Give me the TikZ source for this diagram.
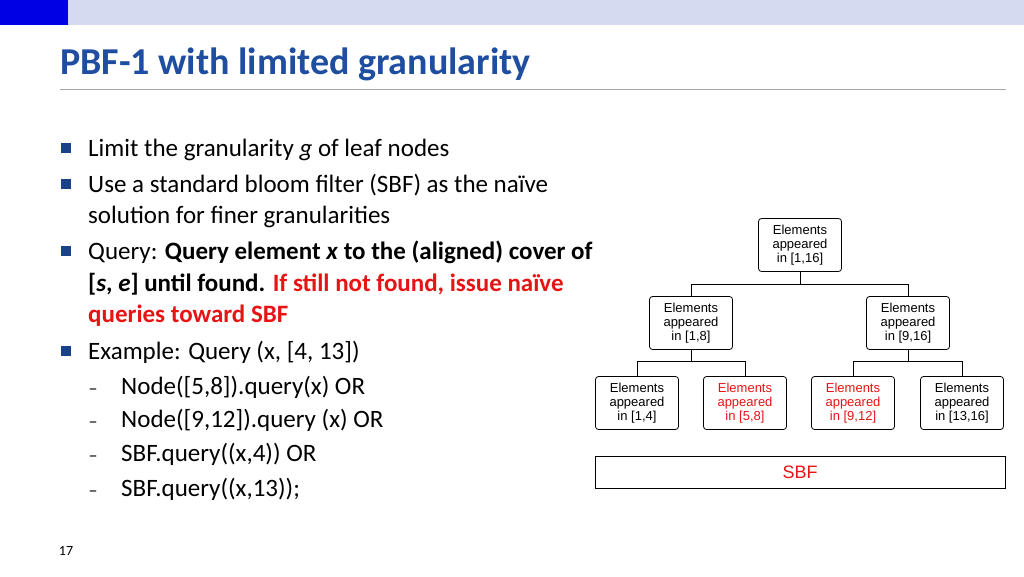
\documentclass[tikz,border=0pt]{standalone}
\usepackage{amsmath,amssymb}
\usepackage{bm}
\usepackage{fontspec}
\setmainfont{Carlito}
\newfontfamily\arialfont{Liberation Sans}
\usetikzlibrary{positioning}
\definecolor{titleblue}{RGB}{31,78,160}
\definecolor{barblue}{RGB}{213,218,240}
\definecolor{hotred}{RGB}{230,20,20}
\tikzset{
  elem/.style={draw, thick, rounded corners=3pt, minimum width=83pt, minimum height=53pt,
    align=center, font=\arialfont\fontsize{13}{14}\selectfont, inner sep=1pt},
  line/.style={anchor=base west, inner xsep=0pt, font=\fontsize{25}{28}\selectfont},
  bul/.style={fill=titleblue!85!black, minimum size=10pt, inner sep=0pt},
  wire/.style={thick}
}
\begin{document}
\begin{tikzpicture}[x=1pt,y=-1pt]
  \useasboundingbox (0,0) rectangle (1024,576);
  % header bar
  \fill[barblue] (0,0) rectangle (1024,25);
  \fill[blue!90!black] (0,0) rectangle (68,25);
  \node[anchor=base west, inner xsep=0pt, text=titleblue, font=\bfseries\fontsize{38}{42}\selectfont] (title) at (60,74) {PBF-1 with limited granularity};
  \draw[gray!70] (60,89) -- (1006,89);
  % bullets
  \foreach \yy in {148,184,251,351} \node[bul] at (66,\yy) {};
  \node[line] (l1) at (88,156) {Limit the granularity \textit{g} of leaf nodes};
  \node[line] (l2) at (88,192) {Use a standard bloom filter (SBF) as the naïve};
  \node[line] (l3) at (88,223) {solution for finer granularities};
  \node[line] (l4) at (88,259) {Query: \textbf{Query element \textit{x} to the (aligned) cover of}};
  \node[line] (l5) at (88,291) {\textbf{[\textit{s}, \textit{e}] until found.} \textcolor{hotred}{\textbf{If still not found, issue naïve}}};
  \node[line] (l6) at (88,322) {\textcolor{hotred}{\textbf{queries toward SBF}}};
  \node[line] (l7) at (88,359) {Example: Query (x, [4, 13])};
  \foreach \yy/\txt [count=\i] in {394/{Node([5,8]).query(x) OR},427/{Node([9,12]).query (x) OR},461/{SBF.query((x,4)) OR},496/{SBF.query((x,13));}}{
    \node[anchor=base, font=\fontsize{18}{20}\selectfont] at (93,\yy) {--};
    \node[line] (s\i) at (121,\yy) {\txt};
  }
  \node[font=\fontsize{14}{16}\selectfont] (pg) at (66,551) {17};
  % tree
  \node[elem] (n116) at (800,245) {Elements\\appeared\\in [1,16]};
  \node[elem] (n18) at (691,323) {Elements\\appeared\\in [1,8]};
  \node[elem] (n916) at (908,323) {Elements\\appeared\\in [9,16]};
  \node[elem] (n14) at (637,403) {Elements\\appeared\\in [1,4]};
  \node[elem, text=hotred] (n58) at (745,403) {Elements\\appeared\\in [5,8]};
  \node[elem, text=hotred] (n912) at (853,403) {Elements\\appeared\\in [9,12]};
  \node[elem] (n1316) at (962,403) {Elements\\appeared\\in [13,16]};
  \node[draw, thick, minimum width=410pt, minimum height=32pt, text=hotred,
    font=\arialfont\fontsize{18}{20}\selectfont] (sbf) at (800,472) {SBF};
  \draw[wire] (n116.south) -- ++(0,12) -| (n18.north);
  \draw[wire] (n116.south) -- ++(0,12) -| (n916.north);
  \draw[wire] (n18.south) -- ++(0,11) -| (n14.north);
  \draw[wire] (n18.south) -- ++(0,11) -| (n58.north);
  \draw[wire] (n916.south) -- ++(0,11) -| (n912.north);
  \draw[wire] (n916.south) -- ++(0,11) -| (n1316.north);
\end{tikzpicture}
\end{document}
